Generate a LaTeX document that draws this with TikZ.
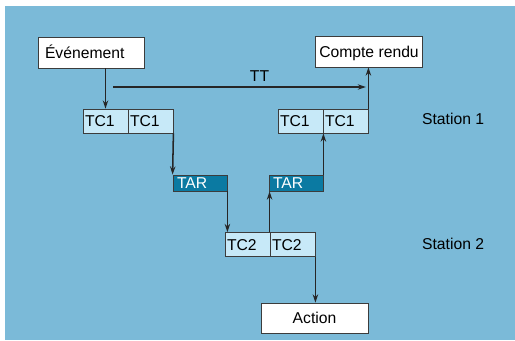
\documentclass[tikz,border=0pt]{standalone}
\usepackage{fontspec}
\setmainfont{Liberation Sans}
\usepackage{xcolor}
\usetikzlibrary{arrows.meta,positioning,calc}

\definecolor{bgblue}{HTML}{7BBAD8}
\definecolor{tclight}{HTML}{C7E9F8}
\definecolor{tardark}{HTML}{0B7AA2}
\definecolor{linegray}{HTML}{3C3C3C}
\newcommand{\pxu}{0.03cm}

\tikzset{
    boxbase/.style={draw=linegray, line width=0.7pt, font=\fontsize{13.4}{15}\selectfont,
        text height=9.5pt, text depth=0pt, inner ysep=0pt},
    whitebox/.style={boxbase, fill=white, minimum width=106*\pxu, minimum height=31*\pxu},
    tcbox/.style={boxbase, fill=tclight, text width=41*\pxu, inner xsep=2*\pxu,
        align=left, minimum height=24*\pxu},
    tarbox/.style={boxbase, fill=tardark, text=white, text width=46*\pxu, inner xsep=4*\pxu,
        align=left, minimum height=16*\pxu},
    flow/.style={->, draw=black!85, line width=1.3pt},
    stationlbl/.style={font=\fontsize{13.4}{15}\selectfont, anchor=west}
}

\begin{document}
\begin{tikzpicture}[>={Stealth[length=7pt,width=4.6pt]}, x=\pxu, y=-\pxu]
    % Background
    \useasboundingbox (0,0) rectangle (515,340);
    \fill[bgblue] (5,6) rectangle (515,340);

    % Event and report boxes
    \node[whitebox, text width=92*\pxu, align=left, inner xsep=7*\pxu, minimum width=0pt] (event) at (91,52.5) {Événement};
    \node[whitebox] (report) at (369,51.5) {Compte rendu};
    \node[whitebox, minimum width=107*\pxu, minimum height=30*\pxu] (action) at (314.5,318) {Action};

    % Station 1 telecommands
    \node[tcbox] (tcLa) at (105.5,121) {TC1};
    \node[tcbox] (tcLb) at (150.5,121) {TC1};
    \node[tcbox] (tcRa) at (300.5,121) {TC1};
    \node[tcbox] (tcRb) at (345.5,121) {TC1};

    % Acknowledgements
    \node[tarbox] (tarL) at (200,183) {TAR};
    \node[tarbox] (tarR) at (296,183) {TAR};

    % Station 2 telecommands
    \node[tcbox] (tc2a) at (247.5,244.5) {TC2};
    \node[tcbox] (tc2b) at (292.5,244.5) {TC2};

    % Station labels
    \node[stationlbl] (st1) at (418,119) {Station 1};
    \node[stationlbl] (st2) at (418,244) {Station 2};

    % TT line
    \coordinate (ttA) at (113,87);
    \coordinate (ttB) at (366,87);
    \draw[flow] (ttA) -- (ttB) node[midway, above=1pt, xshift=20*\pxu, font=\fontsize{13.4}{15}\selectfont, text=black] {TT};

    % Connectors
    \draw[flow] (event.south -| tcLa.north) -- (tcLa.north);
    \draw[flow] (tcLb.south east) -- (tarL.north west);
    \draw[flow] (tarL.south east) -- (tarL.south east |- tc2a.north);
    \draw[flow] (tc2b.north west) -- (tc2b.north west |- tarR.south);
    \draw[flow] (tarR.north east) -- (tarR.north east |- tcRb.south);
    \draw[flow] (tcRb.north east) -- (tcRb.north east |- report.south);
    \draw[flow] (tc2b.south east) -- (tc2b.south east |- action.north);
\end{tikzpicture}
\end{document}
